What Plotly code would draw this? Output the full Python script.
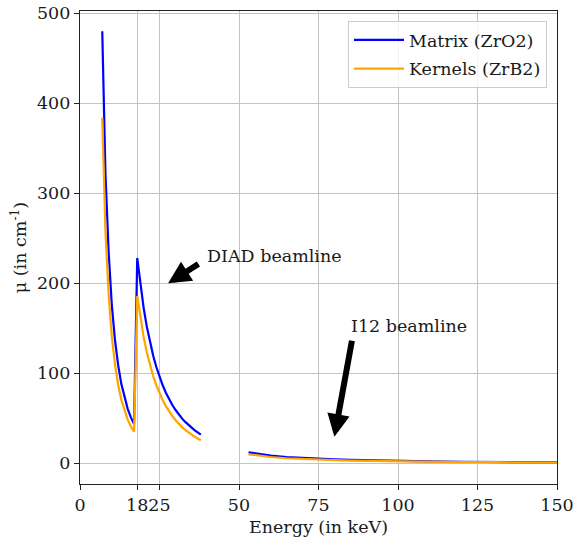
import plotly.graph_objects as go

# Energy grid (keV); None separates the two measured ranges
energy = [7, 7.5, 8, 9, 10, 11, 12, 13, 14, 15, 16, 17,
          18, 19, 20, 21, 22, 23, 24, 25, 26, 27, 28, 29, 30,
          31, 32, 33, 34, 35, 36, 37, 38,
          None,
          53, 55, 60, 65, 70, 75, 80, 85, 90, 95, 100, 110, 120, 130, 140, 150]

matrix_zro2 = [480, 380, 322, 235, 176, 137, 109, 88, 72.5, 60.5, 51, 43.7,
               228, 198, 173, 152, 134.5, 119.7, 107, 96.1, 86.7, 78.5, 71.3, 65.0, 59.5,
               54.6, 50.2, 46.3, 42.8, 39.7, 36.8, 34.3, 31.9,
               None,
               12.2, 11.0, 8.5, 6.9, 5.8, 5.0, 4.3, 3.7, 3.3, 2.9, 2.6, 2.1, 1.75, 1.45, 1.2, 1.0]

kernels_zrb2 = [384, 304, 258, 188, 141, 110, 87, 70.5, 58, 48.5, 41, 35,
                186, 161, 140.5, 123.5, 109, 97, 86.7, 77.9, 70.2, 63.5, 57.7, 52.6, 48.1,
                44.1, 40.5, 37.4, 34.5, 32, 29.7, 27.6, 25.7,
                None,
                10.0, 9.0, 7.0, 5.6, 4.7, 4.0, 3.5, 3.0, 2.7, 2.4, 2.1, 1.7, 1.4, 1.2, 1.0, 0.85]

x_ticks = [0, 18, 25, 50, 75, 100, 125, 150]
x_tick_labels = ["0", "18", "25", "50", "75", "100", "125", "150"]
y_ticks = [0, 100, 200, 300, 400, 500]

series_names = ["Matrix (ZrO2)", "Kernels (ZrB2)"]
series_colors = ["#0000ff", "#ffa500"]

# annotation anchors (data units)
diad_tip = (27.7, 200)
diad_tail = (37.7, 222.6)
diad_text = (39.4, 230)
i12_tip = (80.0, 29.6)
i12_tail = (85.6, 137.8)
i12_text = (84.6, 152.6)

FONT = "DejaVu Serif"
FS = 17.5

fig = go.Figure()
for name, vals, col in zip(series_names, [matrix_zro2, kernels_zrb2], series_colors):
    fig.add_trace(go.Scatter(x=energy, y=vals, mode="lines", name=name,
                             legendgroup=name,
                             line=dict(color=col, width=2.2), connectgaps=False))

axis_common = dict(showline=True, linecolor="#222222", linewidth=1.3, mirror=True,
                   ticks="outside", ticklen=5, tickwidth=1.2, tickcolor="#222222",
                   showgrid=True, gridcolor="#c4c4c4", gridwidth=1.2, zeroline=False,
                   tickangle=0,
                   tickfont=dict(family=FONT, size=FS, color="#1a1a1a"))

fig.update_xaxes(range=[0, 150], tickmode="array", tickvals=x_ticks, ticktext=x_tick_labels,
                 title=dict(text="Energy (in keV)", font=dict(family=FONT, size=FS, color="#1a1a1a"),
                            standoff=6),
                 **axis_common)
fig.update_yaxes(range=[-23, 502.6], tickmode="array", tickvals=y_ticks,
                 title=dict(text="μ (in cm<sup>-1</sup>)", font=dict(family=FONT, size=FS, color="#1a1a1a"),
                            standoff=5),
                 **axis_common)

arrow_style = dict(showarrow=True, arrowhead=2, arrowsize=0.75, arrowwidth=6, arrowcolor="black",
                   axref="x", ayref="y", xref="x", yref="y", text="", standoff=0)
fig.add_annotation(x=diad_tip[0], y=diad_tip[1], ax=diad_tail[0], ay=diad_tail[1], **arrow_style)
fig.add_annotation(x=i12_tip[0], y=i12_tip[1], ax=i12_tail[0], ay=i12_tail[1], **arrow_style)
fig.add_annotation(x=diad_text[0], y=diad_text[1], text="DIAD beamline", showarrow=False,
                   xanchor="left", yanchor="middle", font=dict(family=FONT, size=FS, color="#1a1a1a"))
fig.add_annotation(x=i12_text[0], y=i12_text[1], text="I12 beamline", showarrow=False,
                   xanchor="left", yanchor="middle", font=dict(family=FONT, size=FS, color="#1a1a1a"))

fig.update_layout(
    width=574, height=548,
    margin=dict(l=80, r=17, t=11, b=64, autoexpand=False),
    plot_bgcolor="white", paper_bgcolor="white",
    font=dict(family=FONT, size=FS, color="#1a1a1a"),
    legend=dict(x=0.979, y=0.979, xanchor="right", yanchor="top",
                bgcolor="rgba(255,255,255,0.8)", bordercolor="#cccccc", borderwidth=1,
                font=dict(family=FONT, size=FS), tracegroupgap=3, itemwidth=50),
    showlegend=True,
)

fig.write_html("out.html", config={"displayModeBar": False},
               post_script="document.body.style.margin='0';document.body.style.padding='0';")
